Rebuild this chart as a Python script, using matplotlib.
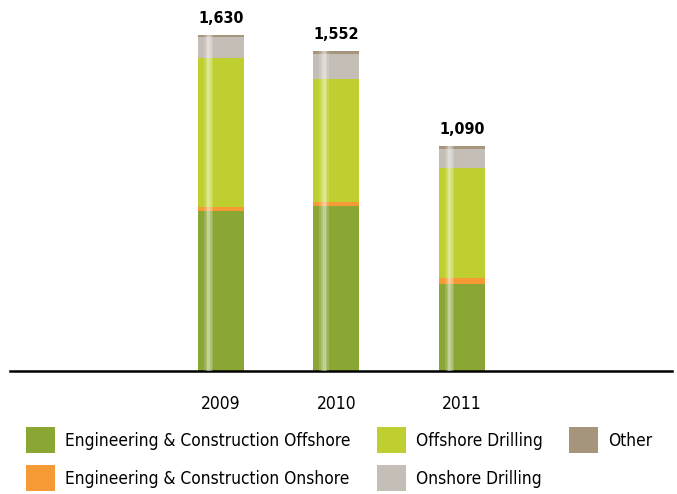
import matplotlib
matplotlib.use("Agg")
import matplotlib.pyplot as plt
from matplotlib.patches import Rectangle
import numpy as np

plt.rcParams['font.family'] = ['DejaVu Sans']
plt.rcParams['font.stretch'] = 'condensed'

years = ["2009", "2010", "2011"]
totals = ["1,630", "1,552", "1,090"]
labels = ["Engineering & Construction Offshore", "Engineering & Construction Onshore",
          "Offshore Drilling", "Onshore Drilling", "Other"]
ec_offshore = [777, 800, 424]
ec_onshore = [19, 20, 29]
offshore_drilling = [722, 596, 532]
onshore_drilling = [102, 125, 91]
other = [10, 11, 14]
colors = ["#8aa635", "#f59a35", "#bfcf2f", "#c5beb6", "#a5957d"]

series = [ec_offshore, ec_onshore, offshore_drilling, onshore_drilling, other]
xpos = np.array([0, 1, 2.09])
width = 0.394

W, H = 677, 494
fig = plt.figure(figsize=(W / 100, H / 100), dpi=100)
ax = fig.add_axes([10 / W, 123 / H, 662 / W, 371 / H])

bottom = np.zeros(3)
for vals, c in zip(series, colors):
    ax.bar(xpos, vals, width, bottom=bottom, color=c, edgecolor="none", zorder=2)
    bottom += np.array(vals)

# glossy highlight stripe
for off, w, a in [(-0.105, 0.08, 0.15), (-0.105, 0.05, 0.2), (-0.105, 0.025, 0.25)]:
    ax.bar(xpos + off, bottom, w, color="white", alpha=a, edgecolor="none", zorder=3)

for x, t, lab in zip(xpos, bottom, totals):
    ax.annotate(lab, (x, t), xytext=(0, 6.5), textcoords="offset points",
                ha="center", va="bottom", fontsize=11.5, fontweight="bold")

ax.set_xlim(-1.827, 3.91)
ax.set_ylim(0, 1801)
ax.set_xticks(xpos)
ax.set_xticklabels(years, fontsize=12.5)
ax.tick_params(axis="x", length=0, pad=17)
ax.set_yticks([])
for s in ["top", "left", "right"]:
    ax.spines[s].set_visible(False)
ax.spines["bottom"].set_linewidth(1.8)

# legend, filled column by column
col_x = [26, 377, 569]
row_y = [427, 465]
for i, (c, l) in enumerate(zip(colors, labels)):
    px, py = col_x[i // 2], row_y[i % 2]
    fig.add_artist(Rectangle((px / W, 1 - (py + 26) / H), 29 / W, 26 / H,
                             transform=fig.transFigure, facecolor=c, edgecolor="none"))
    fig.text((px + 39) / W, 1 - (py + 14) / H, l, fontsize=12.4, va="center", ha="left")

fig.savefig("out.png", dpi=100)
